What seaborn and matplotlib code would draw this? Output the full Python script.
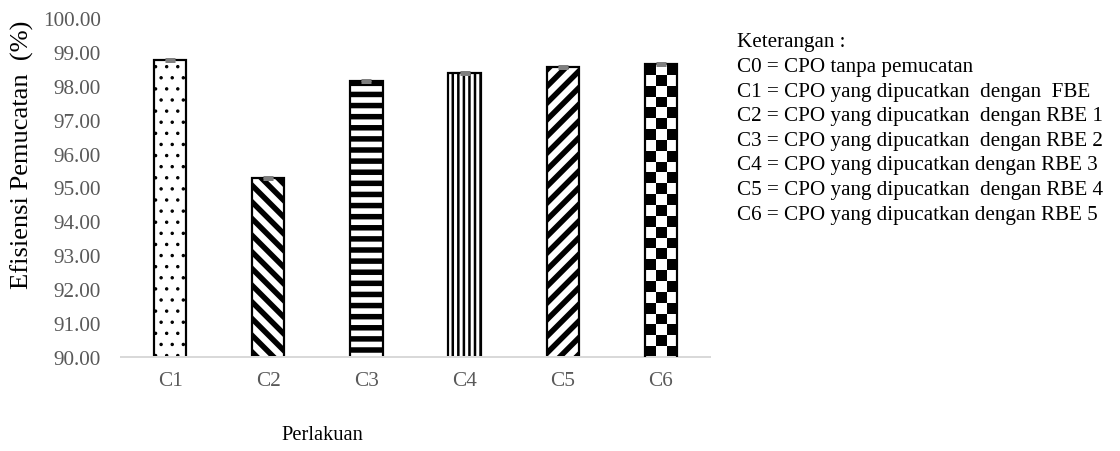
import numpy as np
import matplotlib
matplotlib.use("Agg")
import matplotlib.pyplot as plt
import seaborn as sns

# Data
categories = ["C1", "C2", "C3", "C4", "C5", "C6"]
efficiency = [98.77, 95.27, 98.14, 98.37, 98.56, 98.64]
std_err = [0.03, 0.03, 0.03, 0.03, 0.03, 0.03]
y_ticks = [90, 91, 92, 93, 94, 95, 96, 97, 98, 99, 100]
notes_title = "Keterangan :"
notes = [
    "C0 = CPO tanpa pemucatan",
    "C1 = CPO yang dipucatkan  dengan  FBE",
    "C2 = CPO yang dipucatkan  dengan RBE 1",
    "C3 = CPO yang dipucatkan  dengan RBE 2",
    "C4 = CPO yang dipucatkan dengan RBE 3",
    "C5 = CPO yang dipucatkan  dengan RBE 4",
    "C6 = CPO yang dipucatkan dengan RBE 5",
]

W, H, DPI = 1120, 452, 200


def pt(px):
    return px * 72.0 / DPI


sns.set_theme(style="white")
plt.rcParams["font.family"] = ["Liberation Serif", "DejaVu Serif"]
plt.rcParams["hatch.linewidth"] = pt(5)

fig = plt.figure(figsize=(W / DPI, H / DPI), dpi=DPI)
ax = fig.add_axes([121 / W, 94 / H, 589 / W, 339 / H])

sns.barplot(x=categories, y=efficiency, color="white", width=0.33,
            edgecolor="black", linewidth=pt(2.2), saturation=1,
            errorbar=None, ax=ax)

ax.set_ylim(90, 100)
ax.set_xlim(-0.5, len(categories) - 0.5)
ax.set_yticks(y_ticks)
ax.set_yticklabels([f"{v:.2f}" for v in y_ticks])
ax.tick_params(axis="y", labelsize=pt(21.3), colors="#595959", length=0, pad=pt(20))
ax.tick_params(axis="x", labelsize=pt(21.3), colors="#595959", length=0, pad=pt(14))
for side in ["top", "right", "left"]:
    ax.spines[side].set_visible(False)
ax.spines["bottom"].set_color("#d9d9d9")
ax.spines["bottom"].set_linewidth(pt(2))
ax.set_xlabel("")
ax.set_ylabel("")

# Fill patterns for each bar
hatches = ["...", "\\\\\\\\", "---", "||||||", "////", None]
hatch_lw = [pt(1.2), pt(5.5), pt(5.5), pt(2.5), pt(5.5), None]
patches = list(ax.patches)
for p, h, lw in zip(patches, hatches, hatch_lw):
    if h is not None:
        p.set_hatch(h)
        if hasattr(p, "set_hatch_linewidth"):
            p.set_hatch_linewidth(lw)

# Checkerboard fill for the last bar, clipped to its outline
fig.canvas.draw()
cb = patches[-1]
x0, x1 = cb.get_x(), cb.get_x() + cb.get_width()
y_lo = ax.get_ylim()[0]
y_hi = cb.get_y() + cb.get_height()
(px0, py0), (px1, py1) = ax.transData.transform([(x0, y_lo), (x1, y_hi)])
cell = 10.7
ncols = max(1, int(round(abs(px1 - px0) / cell)))
nrows = max(1, int(round(abs(py1 - py0) / cell)))
board = (np.add.outer(np.arange(nrows), np.arange(ncols)) % 2).astype(float)
cb.set_facecolor("none")
cb.set_zorder(3)
img = ax.imshow(board, cmap="gray", vmin=0, vmax=1, interpolation="nearest",
                extent=(x0, x1, y_lo, y_hi), origin="upper", aspect="auto",
                zorder=2)
img.set_clip_path(cb)
ax.set_xlim(-0.5, len(categories) - 0.5)
ax.set_ylim(90, 100)

# Small error bars on top of each bar
centers = [p.get_x() + p.get_width() / 2 for p in patches]
ax.errorbar(centers, efficiency, yerr=std_err, fmt="none", ecolor="#7f7f7f",
            elinewidth=pt(2), capsize=pt(5), capthick=pt(3), zorder=4)

# Axis titles
fig.text(22 / W, 1 - 155 / H, "Efisiensi Pemucatan  (%)", rotation=90,
         ha="center", va="center", fontsize=pt(26.5), color="black")
fig.text(322 / W, 1 - 436 / H, "Perlakuan", ha="center", va="center",
         fontsize=pt(20.5), color="black")

# Treatment notes
fig.text(737 / W, 1 - 42 / H, notes_title, ha="left", va="center",
         fontsize=pt(21.2), color="black")
for i, line in enumerate(notes):
    fig.text(737 / W, 1 - (67.5 + 24.6 * i) / H, line, ha="left", va="center",
             fontsize=pt(21.2), color="black")

fig.savefig("out.png", dpi=DPI)
